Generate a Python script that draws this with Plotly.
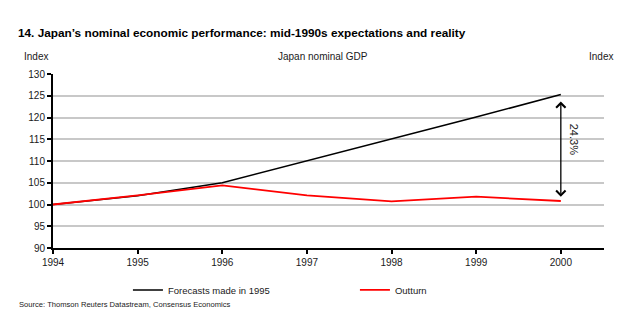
import plotly.graph_objects as go

years = [1994, 1995, 1996, 1997, 1998, 1999, 2000]
forecast_1995 = [100.0, 102.0, 105.0, 110.0, 115.0, 120.1, 125.3]
outturn = [100.0, 102.1, 104.4, 102.1, 100.7, 101.8, 100.8]
y_ticks = [90, 95, 100, 105, 110, 115, 120, 125, 130]
gap_label = "24.3%"

SANS = "Liberation Sans, Arial, sans-serif"
TEXT = "#1a1a1a"
TICKFONT = dict(family=SANS, size=10, color=TEXT)

fig = go.Figure()
fig.add_trace(go.Scatter(x=years, y=forecast_1995, mode="lines",
                         name="Forecasts made in 1995",
                         line=dict(color="#000000", width=1.6)))
fig.add_trace(go.Scatter(x=years, y=outturn, mode="lines", name="Outturn",
                         line=dict(color="#ff0000", width=1.8)))

# gap between forecast and outturn in the final year
fig.add_annotation(x=years[-1], y=101.8, ax=years[-1], ay=124.0,
                   xref="x", yref="y", axref="x", ayref="y",
                   text="", showarrow=True, arrowhead=4, arrowside="end+start",
                   arrowsize=1.4, arrowwidth=1.3, arrowcolor="#000000")
fig.add_annotation(x=years[-1] + 0.15, y=115, xref="x", yref="y",
                   text=gap_label, showarrow=False, textangle=90,
                   font=dict(family=SANS, size=11, color=TEXT))

axis_common = dict(showline=True, linecolor="#000000", linewidth=2,
                   ticks="outside", ticklen=4, tickwidth=1.5, tickcolor="#000000",
                   zeroline=False, tickfont=TICKFONT)

fig.update_layout(
    width=636, height=321,
    margin=dict(l=53, r=32, t=74, b=73, autoexpand=False),
    paper_bgcolor="white", plot_bgcolor="white",
    showlegend=True,
    legend=dict(orientation="h", x=0.136, xanchor="left", y=-0.241, yanchor="middle",
                entrywidth=182, entrywidthmode="pixels", itemwidth=30,
                font=dict(family=SANS, size=9.5, color=TEXT),
                bgcolor="rgba(0,0,0,0)"),
    xaxis=dict(range=[1994, 2000.51], tickvals=years, ticktext=[str(y) for y in years],
               showgrid=False, **axis_common),
    yaxis=dict(range=[90, 130], tickvals=y_ticks,
               showgrid=True, gridcolor="#c8c8c8", gridwidth=1.5, **axis_common),
    yaxis2=dict(range=[90, 130], tickvals=y_ticks, overlaying="y", side="right",
                anchor="x", matches="y", showgrid=False, **axis_common),
)

fig.add_annotation(text="<b>14. Japan\u2019s nominal economic performance: mid-1990s expectations and reality</b>",
                   xref="paper", yref="paper", x=-0.068, y=1.236, xanchor="left", yanchor="middle",
                   showarrow=False,
                   font=dict(family=SANS, size=11.8, color="#000000"))
fig.add_annotation(text="Index", xref="paper", yref="paper", x=-0.057, y=1.098,
                   xanchor="left", yanchor="middle", showarrow=False,
                   font=dict(family=SANS, size=10, color=TEXT))
fig.add_annotation(text="Index", xref="paper", yref="paper", x=1.02, y=1.098,
                   xanchor="right", yanchor="middle", showarrow=False,
                   font=dict(family=SANS, size=10, color=TEXT))
fig.add_annotation(text="Japan nominal GDP", xref="paper", yref="paper", x=0.49, y=1.098,
                   xanchor="center", yanchor="middle", showarrow=False,
                   font=dict(family=SANS, size=10, color=TEXT))
fig.add_annotation(text="Source: Thomson Reuters Datastream, Consensus Economics",
                   xref="paper", yref="paper", x=-0.066, y=-0.322, xanchor="left", yanchor="middle",
                   showarrow=False,
                   font=dict(family=SANS, size=7.6, color=TEXT))

fig.write_html("out.html")
